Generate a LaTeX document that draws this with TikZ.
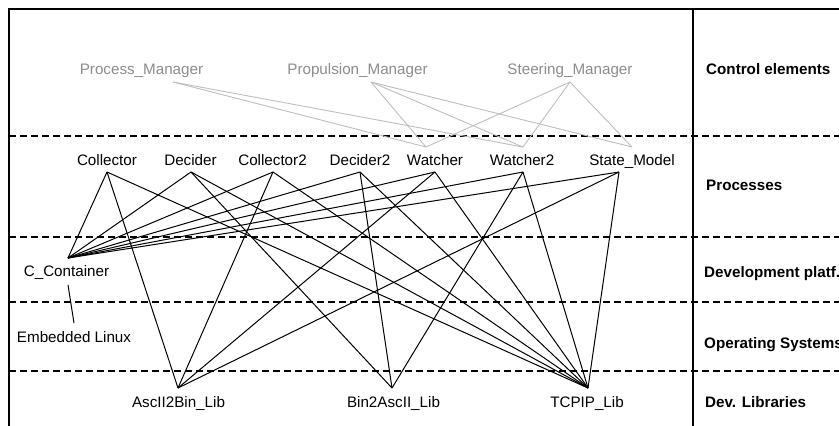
\documentclass[tikz,border=0pt]{standalone}
\usepackage{fontspec}
\setmainfont{Liberation Sans}
\definecolor{ctrltext}{HTML}{8C8C8C}
\definecolor{glinkc}{HTML}{BEBEBE}
\begin{document}
\begin{tikzpicture}[x=1pt,y=-1pt,
  lbl/.style={font=\fontsize{15.2}{18}\selectfont, inner sep=0pt, anchor=base},
  ctrl/.style={lbl, text=ctrltext},
  lay/.style={font=\fontsize{15.2}{18}\selectfont\bfseries, inner sep=0pt, anchor=base west},
  link/.style={line width=1pt},
  glink/.style={line width=0.9pt, draw=glinkc},
  sepline/.style={dash pattern=on 7pt off 4pt, line width=1.1pt},
  frameline/.style={line width=1.1pt}]
\useasboundingbox (0,0) rectangle (839,426);

% frame
\draw[frameline] (9,426) -- (9,9) -- (839,9);
\draw[frameline] (693,9) -- (693,426);

% layer separators
\foreach \yy in {136,237,302,371}
  \draw[sepline] (9,\yy) -- (839,\yy);

% connector anchor points
\coordinate (pmA) at (173,82);
\coordinate (propA) at (371,82);
\coordinate (steerA) at (570,82);
\coordinate (watcherG) at (426,147);
\coordinate (watcher2G) at (523,147);
\coordinate (stateG) at (632,147);

\coordinate (collA) at (107,172);
\coordinate (decA) at (191,172);
\coordinate (coll2A) at (273,172);
\coordinate (dec2A) at (360,172);
\coordinate (watchA) at (435,172);
\coordinate (watch2A) at (523,172);
\coordinate (stateA) at (619,172);

\coordinate (ccA) at (68,258);
\coordinate (ccB) at (68,285);
\coordinate (elA) at (74,323);

\coordinate (a2bA) at (178,388);
\coordinate (b2aA) at (392,388);
\coordinate (tcpA) at (588,388);

% gray control links
\foreach \s/\t in {pmA/watcherG, pmA/watcher2G,
                   propA/watcherG, propA/watcher2G, propA/stateG,
                   steerA/watcherG, steerA/watcher2G, steerA/stateG}
  \draw[glink] (\s) -- (\t);

% process links to C_Container
\foreach \p in {collA,decA,coll2A,dec2A,watchA,watch2A,stateA}
  \draw[link] (ccA) -- (\p);

% process links to libraries
\foreach \p in {collA,coll2A,watchA,stateA}
  \draw[link] (\p) -- (a2bA);
\foreach \p in {decA,dec2A,watch2A}
  \draw[link] (\p) -- (b2aA);
\foreach \p in {collA,decA,coll2A,dec2A,watchA,watch2A,stateA}
  \draw[link] (\p) -- (tcpA);

\draw[link] (ccB) -- (elA);

% control element labels
\node[ctrl] (pm) at (141.5,74) {Process\_Manager};
\node[ctrl] (prop) at (357.5,74) {Propulsion\_Manager};
\node[ctrl] (steer) at (570,74) {Steering\_Manager};

% process labels
\node[lbl] (coll) at (107,165) {Collector};
\node[lbl] (dec) at (190.5,165) {Decider};
\node[lbl] (coll2) at (272.5,165) {Collector2};
\node[lbl] (dec2) at (360,165) {Decider2};
\node[lbl] (watch) at (435,165) {Watcher};
\node[lbl] (watch2) at (522,165) {Watcher2};
\node[lbl] (state) at (632,165) {State\_Model};

% platform / OS / libraries
\node[lbl] (cc) at (66.5,276) {C\_Container};
\node[lbl] (el) at (74,342) {Embedded Linux};
\node[lbl] (a2b) at (178.5,407) {AscII2Bin\_Lib};
\node[lbl] (b2a) at (393.5,407) {Bin2AscII\_Lib};
\node[lbl] (tcp) at (587,407) {TCPIP\_Lib};

% layer names
\node[lay] (l1) at (706,74) {Control elements};
\node[lay] (l2) at (706,190) {Processes};
\node[lay] (l3) at (704,277) {Development platf.};
\node[lay] (l4) at (704,348) {Operating Systems};
\node[lay] (l5) at (705,407) {Dev. Libraries};
\end{tikzpicture}
\end{document}
